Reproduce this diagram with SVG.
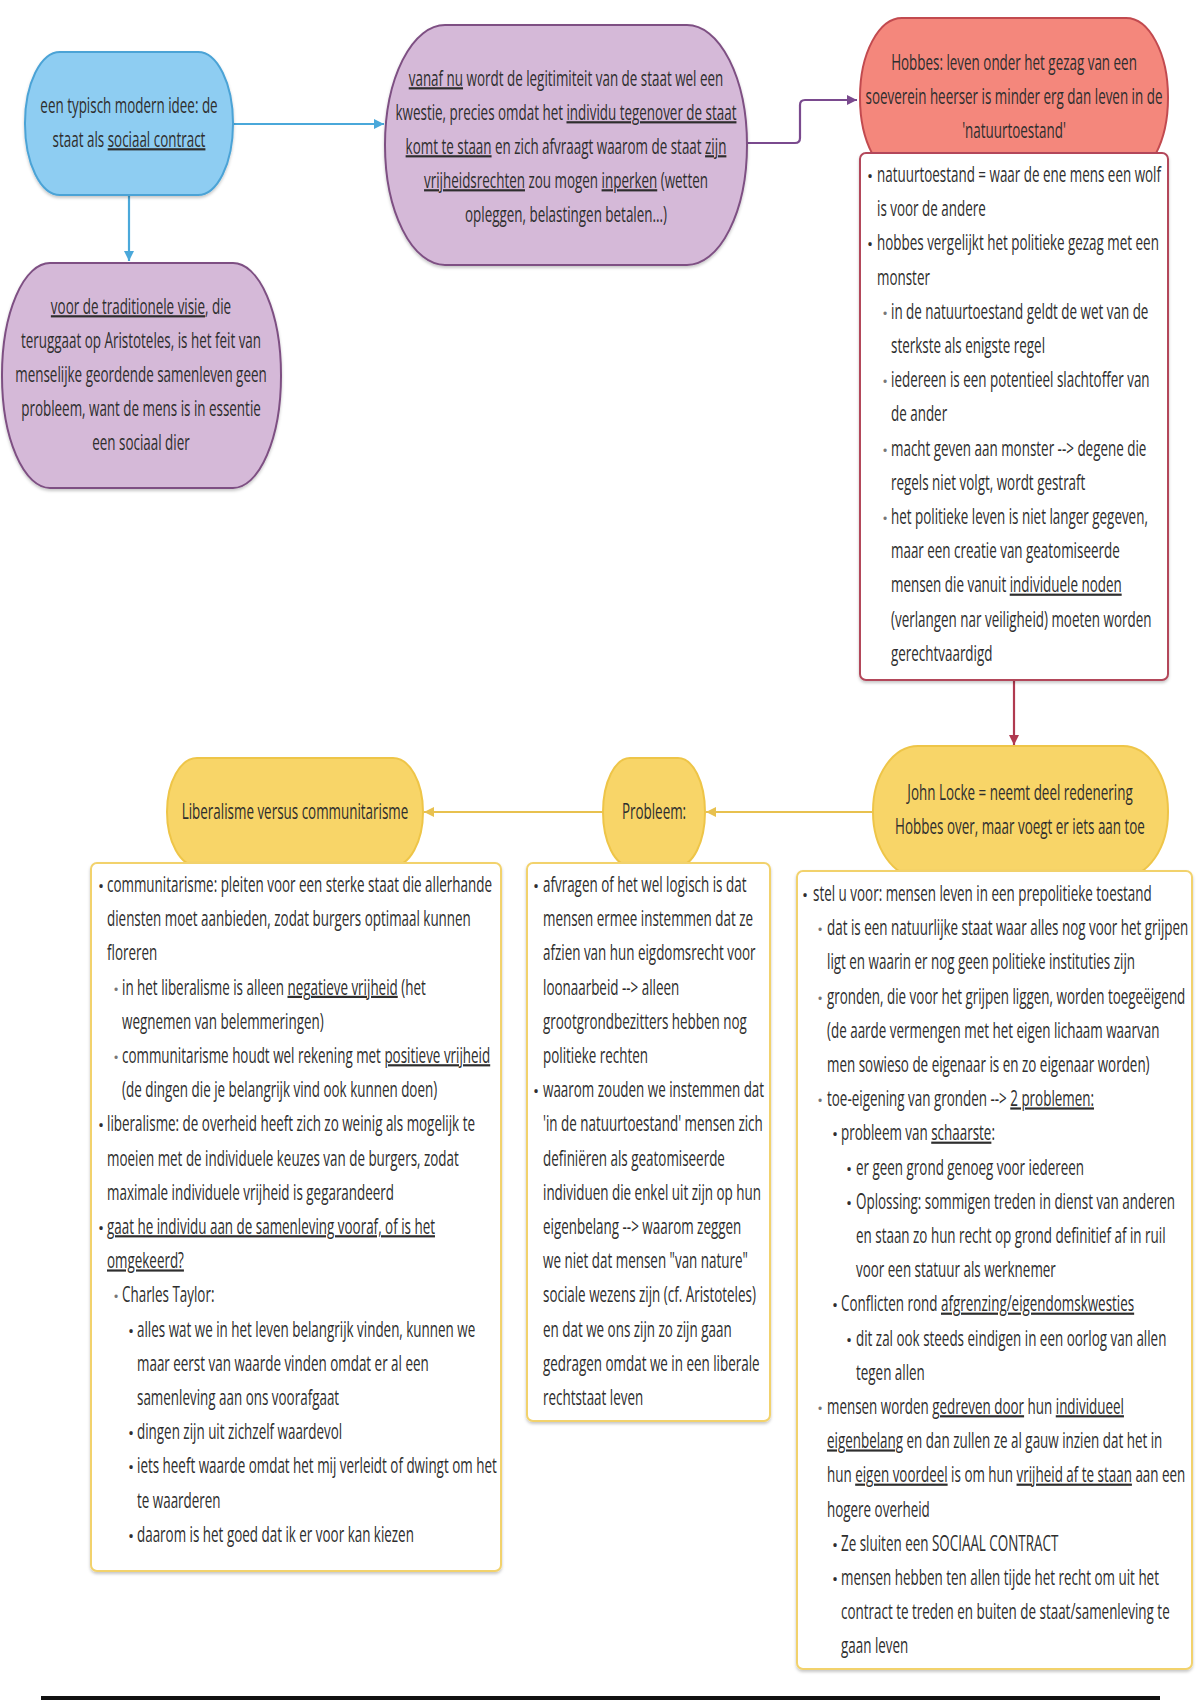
<svg xmlns="http://www.w3.org/2000/svg" width="1200" height="1700" viewBox="0 0 1200 1700">
<style>
.t{font-family:"Open Sans","Noto Sans","DejaVu Sans",sans-serif;font-size:22px;fill:#2e2e2e}
.c{text-anchor:middle}
.u{text-decoration:underline}
.b0{font-family:"Open Sans","DejaVu Sans",sans-serif;font-size:16px;fill:#2e2e2e;text-anchor:middle}
.b1{font-family:"Open Sans","DejaVu Sans",sans-serif;font-size:15px;fill:#777;text-anchor:middle}
.box{fill:#fff;stroke-width:2}
.conn{fill:none;stroke-width:2.2}
</style>
<defs>
<filter id="sh" x="-5%" y="-5%" width="110%" height="110%">
<feDropShadow dx="0" dy="2" stdDeviation="1.5" flood-color="#000" flood-opacity="0.22"/>
</filter>
<marker id="ab" markerWidth="12" markerHeight="12" refX="10" refY="6" orient="auto" markerUnits="userSpaceOnUse"><path d="M0,1 L10,6 L0,11 Z" fill="#4aa8da"/></marker>
<marker id="ap" markerWidth="12" markerHeight="12" refX="10" refY="6" orient="auto" markerUnits="userSpaceOnUse"><path d="M0,1 L10,6 L0,11 Z" fill="#7a4a8e"/></marker>
<marker id="ar" markerWidth="12" markerHeight="12" refX="10" refY="6" orient="auto" markerUnits="userSpaceOnUse"><path d="M0,1 L10,6 L0,11 Z" fill="#b03a50"/></marker>
<marker id="ay" markerWidth="12" markerHeight="12" refX="10" refY="6" orient="auto" markerUnits="userSpaceOnUse"><path d="M0,1 L10,6 L0,11 Z" fill="#e8c14f"/></marker>
</defs>
<rect width="1200" height="1700" fill="#fff"/>

<g id="connectors">
<path class="conn" d="M129,195 V261" stroke="#4aa8da" marker-end="url(#ab)"/>
<path class="conn" d="M233,124 H384" stroke="#4aa8da" marker-end="url(#ab)"/>
<path class="conn" d="M747,143 H795 Q800,143 800,138 V105 Q800,100 805,100 H857" stroke="#7a4a8e" marker-end="url(#ap)"/>
<path class="conn" d="M1014,681 V745" stroke="#b03a50" marker-end="url(#ar)"/>
<path class="conn" d="M873,812 H706" stroke="#e8c14f" marker-end="url(#ay)"/>
<path class="conn" d="M603,812 H424" stroke="#e8c14f" marker-end="url(#ay)"/>
</g>

<g id="node-sociaal-contract">
<rect x="25" y="52" width="208" height="143" rx="35" ry="71" fill="#8ecdf2" stroke="#4ba3d6" stroke-width="2" filter="url(#sh)"/>
<text class="t c" transform="translate(129,113) scale(.61,1)">een typisch modern idee: de</text>
<text class="t c" transform="translate(129,147) scale(.61,1)">staat als <tspan class="u">sociaal contract</tspan></text>
</g>

<g id="node-traditionele-visie">
<rect x="2" y="263" width="279" height="225" rx="48" ry="112" fill="#d5b9d8" stroke="#7e5083" stroke-width="2" filter="url(#sh)"/>
<text class="t c" transform="translate(141,314) scale(.61,1)"><tspan class="u">voor de traditionele visie</tspan>, die</text>
<text class="t c" transform="translate(141,348) scale(.61,1)">teruggaat op Aristoteles, is het feit van</text>
<text class="t c" transform="translate(141,382) scale(.61,1)">menselijke geordende samenleven geen</text>
<text class="t c" transform="translate(141,416) scale(.61,1)">probleem, want de mens is in essentie</text>
<text class="t c" transform="translate(141,450) scale(.61,1)">een sociaal dier</text>
</g>

<g id="node-legitimiteit">
<rect x="385" y="25" width="362" height="240" rx="60" ry="120" fill="#d5b9d8" stroke="#7e5083" stroke-width="2" filter="url(#sh)"/>
<text class="t c" transform="translate(566,86) scale(.61,1)"><tspan class="u">vanaf nu</tspan> wordt de legitimiteit van de staat wel een</text>
<text class="t c" transform="translate(566,120) scale(.61,1)">kwestie, precies omdat het <tspan class="u">individu tegenover de staat</tspan></text>
<text class="t c" transform="translate(566,154) scale(.61,1)"><tspan class="u">komt te staan</tspan> en zich afvraagt waarom de staat <tspan class="u">zijn</tspan></text>
<text class="t c" transform="translate(566,188) scale(.61,1)"><tspan class="u">vrijheidsrechten</tspan> zou mogen <tspan class="u">inperken</tspan> (wetten</text>
<text class="t c" transform="translate(566,222) scale(.61,1)">opleggen, belastingen betalen...)</text>
</g>

<g id="node-hobbes">
<rect x="860" y="18" width="308" height="159" rx="42" ry="79" fill="#f4877c" stroke="#c24a4f" stroke-width="2"/>
<text class="t c" transform="translate(1014,70) scale(.61,1)">Hobbes: leven onder het gezag van een</text>
<text class="t c" transform="translate(1014,104) scale(.61,1)">soeverein heerser is minder erg dan leven in de</text>
<text class="t c" transform="translate(1014,138) scale(.61,1)">'natuurtoestand'</text>
<rect class="box" x="860" y="153" width="308" height="527" rx="6" stroke="#b3475a" filter="url(#sh)"/>
<text class="b0" x="870" y="182">•</text>
<text class="t" transform="translate(877,182) scale(.61,1)">natuurtoestand = waar de ene mens een wolf</text>
<text class="t" transform="translate(877,216.2) scale(.61,1)">is voor de andere</text>
<text class="b0" x="870" y="250.4">•</text>
<text class="t" transform="translate(877,250.4) scale(.61,1)">hobbes vergelijkt het politieke gezag met een</text>
<text class="t" transform="translate(877,284.6) scale(.61,1)">monster</text>
<text class="b1" x="885" y="318.8">•</text>
<text class="t" transform="translate(891,318.8) scale(.61,1)">in de natuurtoestand geldt de wet van de</text>
<text class="t" transform="translate(891,353) scale(.61,1)">sterkste als enigste regel</text>
<text class="b1" x="885" y="387.2">•</text>
<text class="t" transform="translate(891,387.2) scale(.61,1)">iedereen is een potentieel slachtoffer van</text>
<text class="t" transform="translate(891,421.4) scale(.61,1)">de ander</text>
<text class="b1" x="885" y="455.6">•</text>
<text class="t" transform="translate(891,455.6) scale(.61,1)">macht geven aan monster --&gt; degene die</text>
<text class="t" transform="translate(891,489.8) scale(.61,1)">regels niet volgt, wordt gestraft</text>
<text class="b1" x="885" y="524">•</text>
<text class="t" transform="translate(891,524) scale(.61,1)">het politieke leven is niet langer gegeven,</text>
<text class="t" transform="translate(891,558.2) scale(.61,1)">maar een creatie van geatomiseerde</text>
<text class="t" transform="translate(891,592.4) scale(.61,1)">mensen die vanuit <tspan class="u">individuele noden</tspan></text>
<text class="t" transform="translate(891,626.6) scale(.61,1)">(verlangen nar veiligheid) moeten worden</text>
<text class="t" transform="translate(891,660.8) scale(.61,1)">gerechtvaardigd</text>
</g>

<g id="node-locke">
<rect x="873" y="746" width="295" height="131" rx="45" ry="65" fill="#f8d568" stroke="#eec548" stroke-width="2"/>
<text class="t c" transform="translate(1020,800) scale(.61,1)">John Locke = neemt deel redenering</text>
<text class="t c" transform="translate(1020,834) scale(.61,1)">Hobbes over, maar voegt er iets aan toe</text>
<rect class="box" x="797" y="871" width="395" height="798" rx="6" stroke="#f2d26c" filter="url(#sh)"/>
<text class="b0" x="805" y="901">•</text>
<text class="t" transform="translate(813,901) scale(.61,1)">stel u voor: mensen leven in een prepolitieke toestand</text>
<text class="b1" x="820" y="935.2">•</text>
<text class="t" transform="translate(827,935.2) scale(.61,1)">dat is een natuurlijke staat waar alles nog voor het grijpen</text>
<text class="t" transform="translate(827,969.4) scale(.61,1)">ligt en waarin er nog geen politieke instituties zijn</text>
<text class="b1" x="820" y="1003.6">•</text>
<text class="t" transform="translate(827,1003.6) scale(.61,1)">gronden, die voor het grijpen liggen, worden toegeëigend</text>
<text class="t" transform="translate(827,1037.8) scale(.61,1)">(de aarde vermengen met het eigen lichaam waarvan</text>
<text class="t" transform="translate(827,1072) scale(.61,1)">men sowieso de eigenaar is en zo eigenaar worden)</text>
<text class="b1" x="820" y="1106.2">•</text>
<text class="t" transform="translate(827,1106.2) scale(.61,1)">toe-eigening van gronden --&gt; <tspan class="u">2 problemen:</tspan></text>
<text class="b0" x="835" y="1140.4">•</text>
<text class="t" transform="translate(841,1140.4) scale(.61,1)">probleem van <tspan class="u">schaarste</tspan>:</text>
<text class="b0" x="849" y="1174.6">•</text>
<text class="t" transform="translate(856,1174.6) scale(.61,1)">er geen grond genoeg voor iedereen</text>
<text class="b0" x="849" y="1208.8">•</text>
<text class="t" transform="translate(856,1208.8) scale(.61,1)">Oplossing: sommigen treden in dienst van anderen</text>
<text class="t" transform="translate(856,1243) scale(.61,1)">en staan zo hun recht op grond definitief af in ruil</text>
<text class="t" transform="translate(856,1277.2) scale(.61,1)">voor een statuur als werknemer</text>
<text class="b0" x="835" y="1311.4">•</text>
<text class="t" transform="translate(841,1311.4) scale(.61,1)">Conflicten rond <tspan class="u">afgrenzing/eigendomskwesties</tspan></text>
<text class="b0" x="849" y="1345.6">•</text>
<text class="t" transform="translate(856,1345.6) scale(.61,1)">dit zal ook steeds eindigen in een oorlog van allen</text>
<text class="t" transform="translate(856,1379.8) scale(.61,1)">tegen allen</text>
<text class="b1" x="820" y="1414">•</text>
<text class="t" transform="translate(827,1414) scale(.61,1)">mensen worden <tspan class="u">gedreven door</tspan> hun <tspan class="u">individueel</tspan></text>
<text class="t" transform="translate(827,1448.2) scale(.61,1)"><tspan class="u">eigenbelang</tspan> en dan zullen ze al gauw inzien dat het in</text>
<text class="t" transform="translate(827,1482.4) scale(.61,1)">hun <tspan class="u">eigen voordeel</tspan> is om hun <tspan class="u">vrijheid af te staan</tspan> aan een</text>
<text class="t" transform="translate(827,1516.6) scale(.61,1)">hogere overheid</text>
<text class="b0" x="835" y="1550.8">•</text>
<text class="t" transform="translate(841,1550.8) scale(.61,1)">Ze sluiten een SOCIAAL CONTRACT</text>
<text class="b0" x="835" y="1585">•</text>
<text class="t" transform="translate(841,1585) scale(.61,1)">mensen hebben ten allen tijde het recht om uit het</text>
<text class="t" transform="translate(841,1619.2) scale(.61,1)">contract te treden en buiten de staat/samenleving te</text>
<text class="t" transform="translate(841,1653.4) scale(.61,1)">gaan leven</text>
</g>

<g id="node-probleem">
<rect x="603" y="758" width="102" height="108" rx="27" ry="54" fill="#f8d568" stroke="#eec548" stroke-width="2"/>
<text class="t c" transform="translate(654,819) scale(.61,1)">Probleem:</text>
<rect class="box" x="527" y="863" width="243" height="558" rx="6" stroke="#f2d26c" filter="url(#sh)"/>
<text class="b0" x="536" y="892">•</text>
<text class="t" transform="translate(543,892) scale(.61,1)">afvragen of het wel logisch is dat</text>
<text class="t" transform="translate(543,926.2) scale(.61,1)">mensen ermee instemmen dat ze</text>
<text class="t" transform="translate(543,960.4) scale(.61,1)">afzien van hun eigdomsrecht voor</text>
<text class="t" transform="translate(543,994.6) scale(.61,1)">loonaarbeid --&gt; alleen</text>
<text class="t" transform="translate(543,1028.8) scale(.61,1)">grootgrondbezitters hebben nog</text>
<text class="t" transform="translate(543,1063) scale(.61,1)">politieke rechten</text>
<text class="b0" x="536" y="1097.2">•</text>
<text class="t" transform="translate(543,1097.2) scale(.61,1)">waarom zouden we instemmen dat</text>
<text class="t" transform="translate(543,1131.4) scale(.61,1)">'in de natuurtoestand' mensen zich</text>
<text class="t" transform="translate(543,1165.6) scale(.61,1)">definiëren als geatomiseerde</text>
<text class="t" transform="translate(543,1199.8) scale(.61,1)">individuen die enkel uit zijn op hun</text>
<text class="t" transform="translate(543,1234) scale(.61,1)">eigenbelang --&gt; waarom zeggen</text>
<text class="t" transform="translate(543,1268.2) scale(.61,1)">we niet dat mensen "van nature"</text>
<text class="t" transform="translate(543,1302.4) scale(.61,1)">sociale wezens zijn (cf. Aristoteles)</text>
<text class="t" transform="translate(543,1336.6) scale(.61,1)">en dat we ons zijn zo zijn gaan</text>
<text class="t" transform="translate(543,1370.8) scale(.61,1)">gedragen omdat we in een liberale</text>
<text class="t" transform="translate(543,1405) scale(.61,1)">rechtstaat leven</text>
</g>

<g id="node-liberalisme">
<rect x="167" y="758" width="256" height="108" rx="30" ry="54" fill="#f8d568" stroke="#eec548" stroke-width="2"/>
<text class="t c" transform="translate(295,819) scale(.61,1)">Liberalisme versus communitarisme</text>
<rect class="box" x="91" y="863" width="410" height="708" rx="6" stroke="#f2d26c" filter="url(#sh)"/>
<text class="b0" x="101" y="892">•</text>
<text class="t" transform="translate(107,892) scale(.61,1)">communitarisme: pleiten voor een sterke staat die allerhande</text>
<text class="t" transform="translate(107,926.2) scale(.61,1)">diensten moet aanbieden, zodat burgers optimaal kunnen</text>
<text class="t" transform="translate(107,960.4) scale(.61,1)">floreren</text>
<text class="b1" x="116" y="994.6">•</text>
<text class="t" transform="translate(122,994.6) scale(.61,1)">in het liberalisme is alleen <tspan class="u">negatieve vrijheid</tspan> (het</text>
<text class="t" transform="translate(122,1028.8) scale(.61,1)">wegnemen van belemmeringen)</text>
<text class="b1" x="116" y="1063">•</text>
<text class="t" transform="translate(122,1063) scale(.61,1)">communitarisme houdt wel rekening met <tspan class="u">positieve vrijheid</tspan></text>
<text class="t" transform="translate(122,1097.2) scale(.61,1)">(de dingen die je belangrijk vind ook kunnen doen)</text>
<text class="b0" x="101" y="1131.4">•</text>
<text class="t" transform="translate(107,1131.4) scale(.61,1)">liberalisme: de overheid heeft zich zo weinig als mogelijk te</text>
<text class="t" transform="translate(107,1165.6) scale(.61,1)">moeien met de individuele keuzes van de burgers, zodat</text>
<text class="t" transform="translate(107,1199.8) scale(.61,1)">maximale individuele vrijheid is gegarandeerd</text>
<text class="b0" x="101" y="1234">•</text>
<text class="t" transform="translate(107,1234) scale(.61,1)"><tspan class="u">gaat he individu aan de samenleving vooraf, of is het</tspan></text>
<text class="t" transform="translate(107,1268.2) scale(.61,1)"><tspan class="u">omgekeerd?</tspan></text>
<text class="b1" x="116" y="1302.4">•</text>
<text class="t" transform="translate(122,1302.4) scale(.61,1)">Charles Taylor:</text>
<text class="b0" x="131" y="1336.6">•</text>
<text class="t" transform="translate(137,1336.6) scale(.61,1)">alles wat we in het leven belangrijk vinden, kunnen we</text>
<text class="t" transform="translate(137,1370.8) scale(.61,1)">maar eerst van waarde vinden omdat er al een</text>
<text class="t" transform="translate(137,1405) scale(.61,1)">samenleving aan ons voorafgaat</text>
<text class="b0" x="131" y="1439.2">•</text>
<text class="t" transform="translate(137,1439.2) scale(.61,1)">dingen zijn uit zichzelf waardevol</text>
<text class="b0" x="131" y="1473.4">•</text>
<text class="t" transform="translate(137,1473.4) scale(.61,1)">iets heeft waarde omdat het mij verleidt of dwingt om het</text>
<text class="t" transform="translate(137,1507.6) scale(.61,1)">te waarderen</text>
<text class="b0" x="131" y="1541.8">•</text>
<text class="t" transform="translate(137,1541.8) scale(.61,1)">daarom is het goed dat ik er voor kan kiezen</text>
</g>

<rect x="41" y="1696" width="1119" height="4" fill="#111"/>
</svg>
